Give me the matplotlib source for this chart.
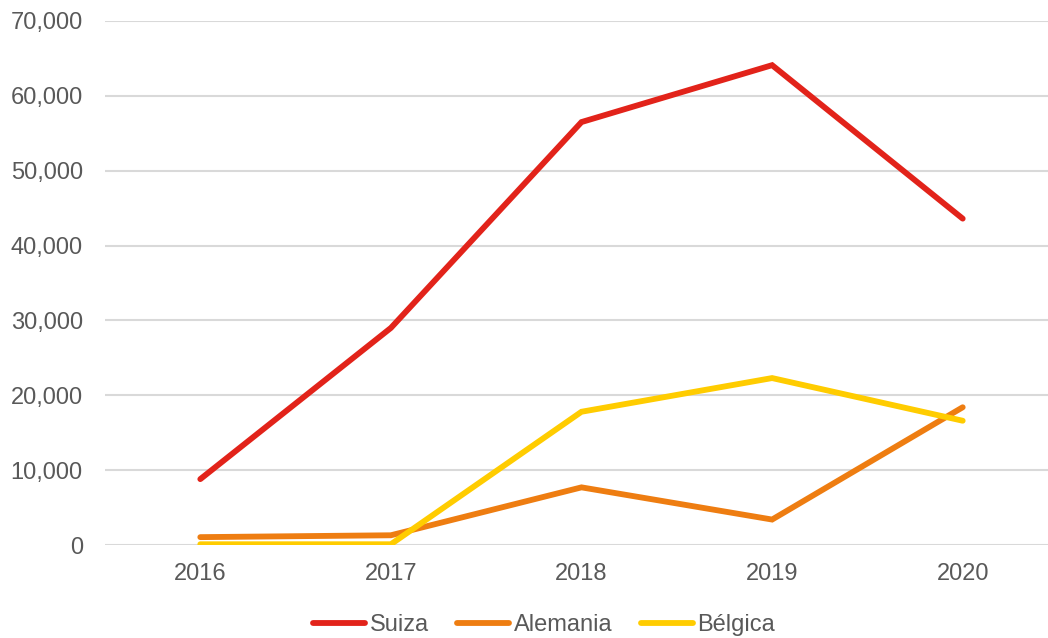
import matplotlib.pyplot as plt
from matplotlib.ticker import FuncFormatter

years = ["2016", "2017", "2018", "2019", "2020"]
suiza = [8800, 29000, 56500, 64100, 43600]
alemania = [1050, 1300, 7700, 3400, 18400]
belgica = [100, 100, 17800, 22300, 16600]

plt.rcParams['font.family'] = ['Liberation Sans', 'DejaVu Sans']

fig = plt.figure(figsize=(10.48, 6.38), dpi=100)
ax = fig.add_axes([105 / 1048, 1 - 545 / 638, 953 / 1048, 524 / 638])

x = range(len(years))
ax.plot(x, suiza, color="#E2231A", lw=4.2, solid_capstyle="round", solid_joinstyle="miter", label="Suiza", zorder=3)
ax.plot(x, alemania, color="#EE7D11", lw=4.2, solid_capstyle="round", solid_joinstyle="miter", label="Alemania", zorder=3)
ax.plot(x, belgica, color="#FFCC00", lw=4.2, solid_capstyle="round", solid_joinstyle="miter", label="Bélgica", zorder=3)

ax.set_xlim(-0.5, len(years) - 0.5)
ax.set_ylim(0, 70000)
ax.set_yticks(range(0, 70001, 10000))
ax.yaxis.set_major_formatter(FuncFormatter(lambda v, p: f"{int(v):,}"))
ax.set_xticks(list(x))
ax.set_xticklabels(years)

ax.grid(axis="y", color="#D9D9D9", lw=1.5)
ax.set_axisbelow(True)
for s in ax.spines.values():
    s.set_visible(False)
ax.tick_params(length=0, labelsize=17, colors="#595959")
ax.tick_params(axis="y", pad=16)
ax.tick_params(axis="x", pad=13)

leg = fig.legend(loc="center", bbox_to_anchor=(544 / 1048, 1 - 625 / 638), ncol=3, frameon=False,
                 fontsize=17, handlelength=2.2, handletextpad=0.2, columnspacing=1.2)
for t in leg.get_texts():
    t.set_color("#595959")

fig.savefig("out.png", dpi=100)
